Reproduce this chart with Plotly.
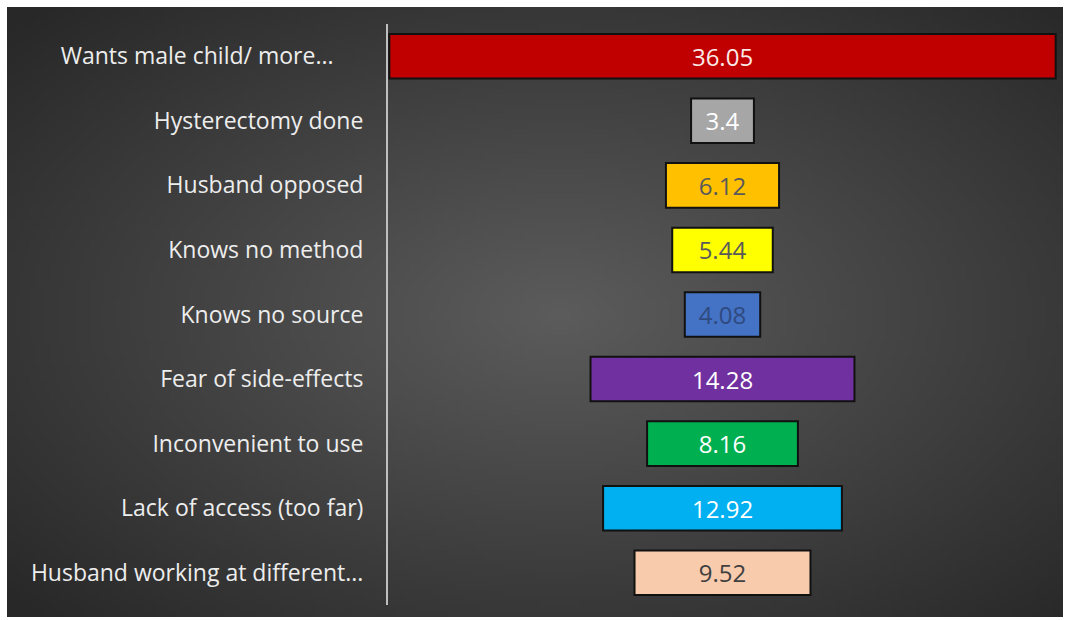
import struct, zlib, base64
import plotly.graph_objects as go

categories = [
    "Wants male child/ more...",
    "Hysterectomy done",
    "Husband opposed",
    "Knows no method",
    "Knows no source",
    "Fear of side-effects",
    "Inconvenient to use",
    "Lack of access (too far)",
    "Husband working at different...",
]
values = [36.05, 3.4, 6.12, 5.44, 4.08, 14.28, 8.16, 12.92, 9.52]
bar_colors = ["#C00000", "#A6A6A6", "#FFC000", "#FFFF00", "#4472C4",
              "#7030A0", "#00B050", "#00B0F0", "#F8CBAD"]
text_colors = ["#FBE9E7", "#FFFFFF", "#5A5A5A", "#5A5A5A", "#2F4A80",
               "#FFFFFF", "#FFFFFF", "#FFFFFF", "#404040"]
# first label sits a little left of the others in the original
tick_text = [c + ("\u00a0" * 5 if i == 0 else "") for i, c in enumerate(categories)]

W, H = 1065, 620
L, R, T, B = 388, 8, 24, 15
pw, ph = W - L - R, H - T - B


def gradient_png(w, h):
    rows = []
    cx, cy = w * 0.52, h * 0.5
    for j in range(h):
        row = bytearray([0])
        for i in range(w):
            dx = (i - cx) / (w / 2)
            dy = (j - cy) / (h / 2)
            r = min(((dx * dx + dy * dy) ** 0.5) / 1.414, 1.0)
            v = int(92 - 52 * r)
            row += bytes([v, v, v])
        rows.append(bytes(row))
    raw = b"".join(rows)

    def chunk(tag, data):
        c = struct.pack(">I", len(data)) + tag + data
        return c + struct.pack(">I", zlib.crc32(tag + data) & 0xffffffff)

    png = b"\x89PNG\r\n\x1a\n"
    png += chunk(b"IHDR", struct.pack(">IIBBBBB", w, h, 8, 2, 0, 0, 0))
    png += chunk(b"IDAT", zlib.compress(raw, 9))
    png += chunk(b"IEND", b"")
    return "data:image/png;base64," + base64.b64encode(png).decode()


bg = gradient_png(211, 122)
# dark panel inside a thin white border
bx0, bx1, by0, by1 = 7, 1063, 7, 617

fig = go.Figure(go.Funnel(
    y=categories,
    x=values,
    texttemplate="%{x}",
    textposition="inside",
    insidetextanchor="middle",
    textfont=dict(color=text_colors, size=24, family="Open Sans"),
    marker=dict(color=bar_colors, line=dict(color="#111111", width=2)),
    connector=dict(visible=False),
    hoverinfo="skip",
))

half = max(values) / 2
fig.update_layout(
    width=W, height=H,
    margin=dict(l=L, r=R, t=T, b=B),
    paper_bgcolor="white",
    plot_bgcolor="rgba(0,0,0,0)",
    funnelgap=0.31,
    showlegend=False,
    uniformtext=dict(minsize=24, mode="show"),
    xaxis=dict(visible=False, range=[-half * 1.004, half * 1.004]),
    yaxis=dict(showline=True, linecolor="#BFBFBF", linewidth=2, ticks="",
               showgrid=False, ticklabelstandoff=18,
               tickmode="array", tickvals=categories, ticktext=tick_text,
               tickfont=dict(color="#EDEDED", size=23, family="Open Sans")),
    images=[dict(source=bg, xref="paper", yref="paper",
                 x=(bx0 - L) / pw, y=1 + (T - by0) / ph,
                 sizex=(bx1 - bx0) / pw, sizey=(by1 - by0) / ph,
                 xanchor="left", yanchor="top", sizing="stretch",
                 layer="below")],
)

fig.write_html("out.html")
